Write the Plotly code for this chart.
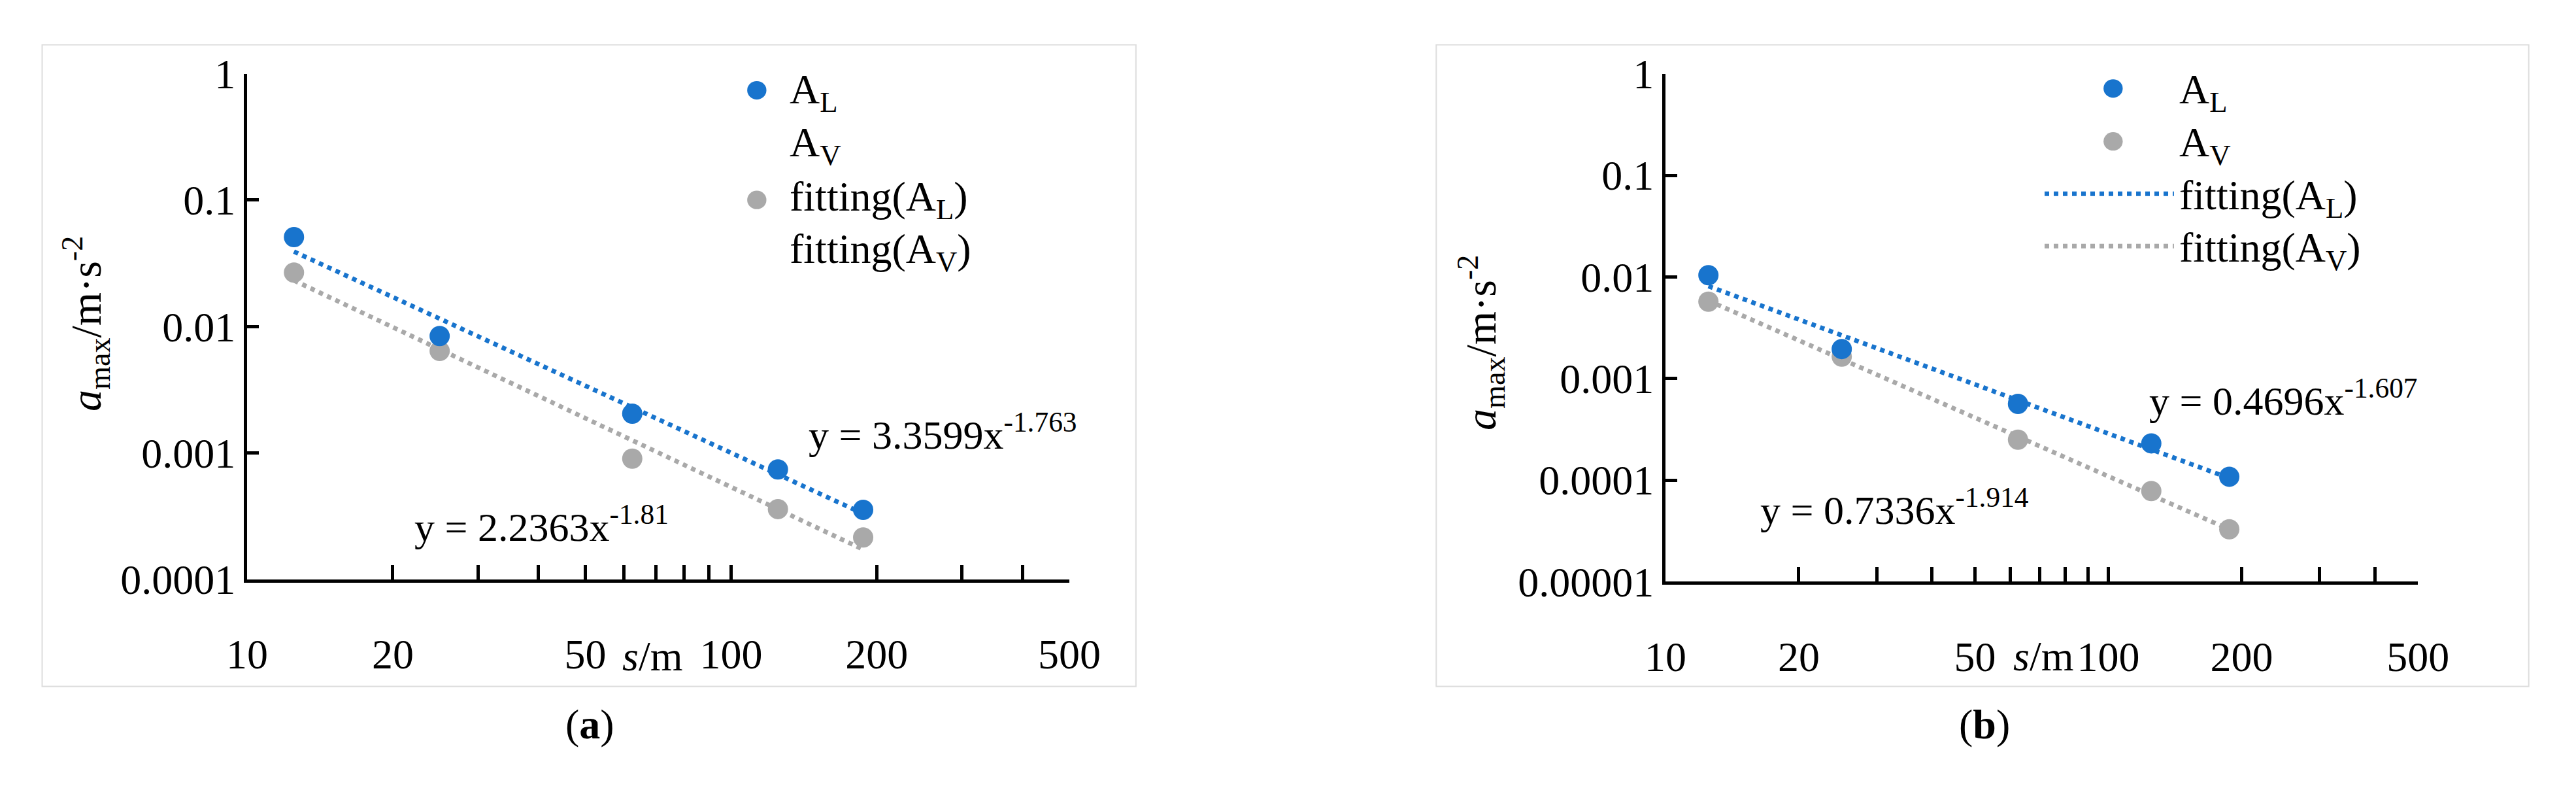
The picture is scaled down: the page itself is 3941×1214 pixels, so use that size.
import numpy as np
import plotly.graph_objects as go

W, H = 3941, 1214
s_vals = [12.5, 25, 62.5, 125, 187.5]
a_AL = [0.051, 0.0084, 0.00204, 0.00074, 0.000354]
a_AV = [0.0267, 0.0064, 0.0009, 0.000359, 0.000214]
b_AL = [0.0104, 0.00195, 0.000563, 0.00023, 0.000108]
b_AV = [0.0057, 0.00164, 0.00025, 0.000078, 0.0000328]
fit_a = {"AL": (3.3599, -1.763), "AV": (2.2363, -1.81)}
fit_b = {"AL": (0.4696, -1.607), "AV": (0.7336, -1.914)}
x_ticks = [10, 20, 50, 100, 200, 500]
x_minor = [20, 30, 40, 50, 60, 70, 80, 90, 100, 200, 300, 400]

BLUE = "#1874CD"
GREY = "#A9A9A9"
FONT = "Liberation Serif, Times New Roman, DejaVu Serif, serif"

fig = go.Figure()
xs = np.array(s_vals)
for i, (AL, AV, fit) in enumerate([(a_AL, a_AV, fit_a), (b_AL, b_AV, fit_b)]):
    xa = "x" if i == 0 else "x2"
    ya = "y" if i == 0 else "y2"
    for key, col in [("AL", BLUE), ("AV", GREY)]:
        c, p = fit[key]
        fig.add_trace(go.Scatter(x=xs, y=c * xs ** p, mode="lines", xaxis=xa, yaxis=ya,
                                 line=dict(color=col, width=7, dash="dot"), showlegend=False))
    fig.add_trace(go.Scatter(x=xs, y=AV, mode="markers", xaxis=xa, yaxis=ya,
                             marker=dict(color=GREY, size=31), showlegend=False))
    fig.add_trace(go.Scatter(x=xs, y=AL, mode="markers", xaxis=xa, yaxis=ya,
                             marker=dict(color=BLUE, size=31), showlegend=False))

def xax(dom):
    return dict(type="log", range=[1, np.log10(500)], domain=dom, showgrid=False,
                showline=True, linecolor="black", linewidth=5, zeroline=False,
                tickvals=x_ticks, ticktext=[str(v) for v in x_ticks], ticks="",
                ticklabelstandoff=55, tickfont=dict(family=FONT, size=64, color="black"),
                minor=dict(tickvals=x_minor, ticks="inside", ticklen=22, tickwidth=5, tickcolor="black"))

def yax(dom, lo, anchor):
    vals = [10 ** k for k in range(lo, 1)]
    txt = ["1" if k == 0 else ("%." + str(-k) + "f") % (10 ** k) for k in range(lo, 1)]
    return dict(type="log", range=[lo, 0], domain=dom, anchor=anchor, showgrid=False,
                showline=True, linecolor="black", linewidth=5, zeroline=False,
                tickvals=vals, ticktext=txt, ticks="inside", ticklen=18, tickwidth=5,
                tickcolor="black", tickfont=dict(family=FONT, size=64, color="black"))

fig.update_layout(
    width=W, height=H, margin=dict(l=0, r=0, t=0, b=0),
    paper_bgcolor="white", plot_bgcolor="white", font=dict(family=FONT),
    xaxis=xax([345 / W, 1629 / W]), yaxis=yax([1 - 895 / H, 1 - 74 / H], -4, "x"),
    xaxis2=dict(xax([2560 / W, 3735 / W]), anchor="y2"),
    yaxis2=yax([1 - 899 / H, 1 - 74 / H], -5, "x2"),
)
fig.layout.xaxis.anchor = "y"

shapes, ann = [], []
for x0, x1 in [(25, 1733), (2202, 3908)]:
    shapes.append(dict(type="rect", xref="paper", yref="paper", x0=x0 / W, x1=x1 / W,
                       y0=1 - 1069 / H, y1=1 - 27 / H, line=dict(color="#DDDDDD", width=2)))

def txt(x, y, t, size=64, xanchor="left", angle=0):
    ann.append(dict(xref="paper", yref="paper", x=x / W, y=1 - y / H, text=t, showarrow=False,
                    xanchor=xanchor, yanchor="middle", textangle=angle,
                    font=dict(family=FONT, size=size, color="black")))

def dot(x, y, col, r=15):
    shapes.append(dict(type="circle", xref="paper", yref="paper", x0=(x - r) / W, x1=(x + r) / W,
                       y0=1 - (y + r) / H, y1=1 - (y - r) / H, fillcolor=col, line=dict(width=0)))

# panel a legend (as in reference)
dot(1141, 101, BLUE); dot(1141, 279, GREY)
for y, t in [(104, "A<sub>L</sub>"), (190, "A<sub>V</sub>"), (278, "fitting(A<sub>L</sub>)"), (363, "fitting(A<sub>V</sub>)")]:
    txt(1190, y, t)
# panel b legend
dot(3259, 98, BLUE); dot(3259, 184, GREY)
for y, col in [(269, BLUE), (354, GREY)]:
    shapes.append(dict(type="line", xref="paper", yref="paper", x0=3152 / W, x1=3354 / W,
                       y0=1 - y / H, y1=1 - y / H, line=dict(color=col, width=7, dash="dot")))
for y, t in [(104, "A<sub>L</sub>"), (190, "A<sub>V</sub>"), (276, "fitting(A<sub>L</sub>)"), (361, "fitting(A<sub>V</sub>)")]:
    txt(3360, y, t)

txt(1220, 655, "y = 3.3599x<sup>-1.763</sup>", 62)
txt(604, 805, "y = 2.2363x<sup>-1.81</sup>", 62)
txt(3313, 600, "y = 0.4696x<sup>-1.607</sup>", 62)
txt(2706, 778, "y = 0.7336x<sup>-1.914</sup>", 62)
ytitle = "<i>a</i><sub>max</sub>/m·s<sup>-2</sup>"
txt(94, 480, ytitle, 66, "center", -90)
txt(2272, 511, ytitle, 66, "center", -90)
txt(978, 1020, "<i>s</i>/m", 64, "center")
txt(3150, 1020, "<i>s</i>/m", 64, "center")
txt(880, 1131, "(<b>a</b>)", 64, "center")
txt(3058, 1131, "(<b>b</b>)", 64, "center")
fig.update_layout(shapes=shapes, annotations=ann)
fig.write_html("out.html")
